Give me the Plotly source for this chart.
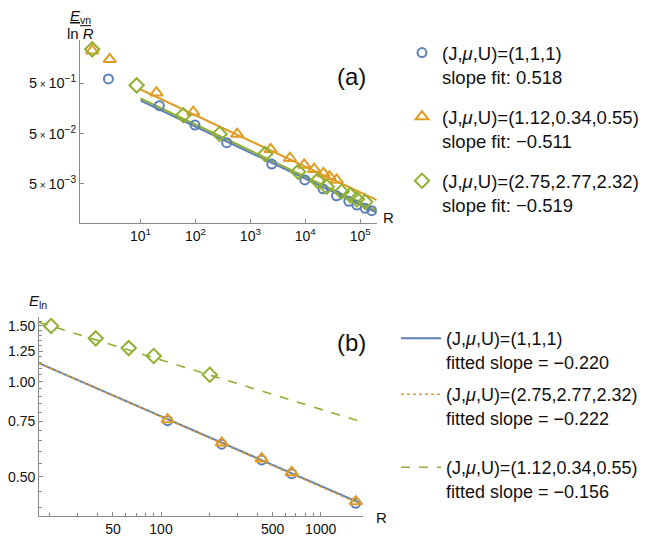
import numpy as np
import plotly.graph_objects as go

# ---------------- data: panel (a) ----------------
R_a_blue = [2.6, 22, 98, 370, 2450, 9800, 21000, 37000, 62000, 87000, 123000, 162000]
E_a_blue = [0.61, 0.18, 0.074, 0.033, 0.0124, 0.006, 0.004, 0.0029, 0.00226, 0.0019, 0.00164, 0.00147]

R_a_orange = [1.32, 2.75, 19.5, 91, 575, 2340, 5250, 9550, 14500, 21400, 27500, 37200]
E_a_orange = [2.22, 1.5, 0.325, 0.134, 0.049, 0.0244, 0.0162, 0.0119, 0.0098, 0.0081, 0.0070, 0.0060]

R_a_green = [1.32, 8.5, 60, 275, 1860, 7400, 16600, 24500, 45700, 66000, 87000, 123000]
E_a_green = [2.37, 0.456, 0.116, 0.049, 0.0196, 0.00875, 0.0058, 0.0044, 0.0035, 0.0030, 0.00247, 0.0022]

# fit lines (log10 intercept, slope) for panel (a)
fit_a_intercept = [-0.125, 0.087, -0.08]
fit_a_slope = [-0.518, -0.511, -0.519]
fit_a_R = [10, 200000]

labels_a = ["(J,<i>μ</i>,U)=(1,1,1)<br>slope fit: 0.518",
            "(J,<i>μ</i>,U)=(1.12,0.34,0.55)<br>slope fit: −0.511",
            "(J,<i>μ</i>,U)=(2.75,2.77,2.32)<br>slope fit: −0.519"]

# ---------------- data: panel (b) ----------------
R_b_12 = [110, 240, 427, 658, 1656]
E_b_blue = [0.752, 0.634, 0.565, 0.511, 0.412]
E_b_orange = [0.758, 0.640, 0.570, 0.516, 0.417]
R_b_green = [20.5, 39, 62.8, 90, 202]
E_b_green = [1.50, 1.371, 1.277, 1.205, 1.051]

fit_b_intercept = [0.33, 0.333, 0.3805]
fit_b_slope = [-0.220, -0.222, -0.156]
fit_b_R = [17.2, 1833]

labels_b = ["(J,<i>μ</i>,U)=(1,1,1)<br>fitted slope = −0.220",
            "(J,<i>μ</i>,U)=(2.75,2.77,2.32)<br>fitted slope = −0.222",
            "(J,<i>μ</i>,U)=(1.12,0.34,0.55)<br>fitted slope = −0.156"]

# ticks
xa_tickvals = [10, 100, 1000, 10000, 100000]
xa_ticktext = ["10<sup>1</sup>", "10<sup>2</sup>", "10<sup>3</sup>", "10<sup>4</sup>", "10<sup>5</sup>"]
ya_tickvals = [0.5, 0.05, 0.005]
ya_ticktext = ["5<span style='font-size:10px'> × </span>10<sup>−1</sup>",
               "5<span style='font-size:10px'> × </span>10<sup>−2</sup>",
               "5<span style='font-size:10px'> × </span>10<sup>−3</sup>"]
xb_tickvals = [50, 100, 500, 1000]
xb_ticktext = ["50", "100", "500", "1000"]
xb_minor = [20, 30, 40, 60, 70, 80, 90, 200, 300, 400, 600, 700, 800, 900]
yb_tickvals = [0.5, 0.75, 1.0, 1.25, 1.5]
yb_ticktext = ["0.50", "0.75", "1.00", "1.25", "1.50"]
yb_minor = [0.4, 0.45, 0.55, 0.6, 0.65, 0.7, 0.8, 0.85, 0.9, 0.95, 1.05, 1.1, 1.15, 1.2,
            1.3, 1.35, 1.4, 1.45, 1.55]

BLUE = "#5E81B5"
ORANGE = "#E19C24"
GREEN = "#8FB032"
AXC = "#8a8a8a"
FONT = "Liberation Sans, Arial, sans-serif"

# page has an 8px body margin: figure is drawn 8px in from the window edge
OFF = 8
W, H = 649 - OFF, 539 - OFF


def fx(px):
    return (px - OFF) / W


def fy(py):
    return 1 - (py - OFF) / H


fig = go.Figure()

# ---- panel (a) fit lines
colors_a = [BLUE, ORANGE, GREEN]
for b0, s, c in zip(fit_a_intercept, fit_a_slope, colors_a):
    xr = np.array(fit_a_R, dtype=float)
    yr = 10 ** (b0 + s * np.log10(xr))
    fig.add_trace(go.Scatter(x=xr, y=yr, mode="lines", line=dict(color=c, width=2),
                             showlegend=False, xaxis="x", yaxis="y", hoverinfo="skip"))

# ---- panel (a) markers
sym_a = ["circle-open", "triangle-up-open", "diamond-open"]
size_a = [9, 11, 11]
data_a = [(R_a_blue, E_a_blue), (R_a_orange, E_a_orange), (R_a_green, E_a_green)]
for i, ((rx, ey), c, sy, sz, lab) in enumerate(zip(data_a, colors_a, sym_a, size_a, labels_a)):
    fig.add_trace(go.Scatter(x=rx, y=ey, mode="markers", name=lab,
                             marker=dict(symbol=sy, size=sz, color=c, line=dict(width=2, color=c)),
                             xaxis="x", yaxis="y", legend="legend", legendgroup="a%d" % i))

# ---- panel (b) fit lines (one legend box per entry)
colors_b = [BLUE, ORANGE, GREEN]
dash_b = ["solid", "dot", "dash"]
legends_b = ["legend2", "legend3", "legend4"]
for i, (b0, s, c, d, lab, lg) in enumerate(zip(fit_b_intercept, fit_b_slope, colors_b, dash_b,
                                               labels_b, legends_b)):
    xr = np.geomspace(fit_b_R[0], fit_b_R[1], 50)
    yr = 10 ** (b0 + s * np.log10(xr))
    fig.add_trace(go.Scatter(x=xr, y=yr, mode="lines", name=lab,
                             line=dict(color=c, width=2 if i == 0 else 1.6, dash=d),
                             xaxis="x2", yaxis="y2", legend=lg, hoverinfo="skip"))

# ---- panel (b) markers
fig.add_trace(go.Scatter(x=R_b_12, y=E_b_blue, mode="markers", showlegend=False,
                         marker=dict(symbol="circle-open", size=9, color=BLUE, line=dict(width=2, color=BLUE)),
                         xaxis="x2", yaxis="y2"))
fig.add_trace(go.Scatter(x=R_b_12, y=E_b_orange, mode="markers", showlegend=False,
                         marker=dict(symbol="triangle-up-open", size=11, color=ORANGE, line=dict(width=2, color=ORANGE)),
                         xaxis="x2", yaxis="y2"))
fig.add_trace(go.Scatter(x=R_b_green, y=E_b_green, mode="markers", showlegend=False,
                         marker=dict(symbol="diamond-open", size=11, color=GREEN, line=dict(width=2, color=GREEN)),
                         xaxis="x2", yaxis="y2"))

axis_common = dict(showgrid=False, zeroline=False, showline=True, linecolor=AXC, linewidth=1,
                   ticks="inside", tickcolor=AXC, tickwidth=1, automargin=False,
                   tickfont=dict(family=FONT, size=14, color="#111"), type="log")

leg_font_a = dict(family=FONT, size=18.5, color="#111")
leg_font_b = dict(family=FONT, size=18, color="#111")


def leg(xpx, ypx, font, **kw):
    d = dict(x=fx(xpx), y=fy(ypx), xanchor="left", yanchor="top", font=font,
             valign="top", bgcolor="rgba(0,0,0,0)")
    d.update(kw)
    return d


fig.update_layout(
    width=W, height=H, margin=dict(l=0, r=0, t=0, b=0, autoexpand=False),
    paper_bgcolor="white", plot_bgcolor="white",
    font=dict(family=FONT, color="#111"),
    xaxis=dict(axis_common, domain=[fx(80), fx(376.7)], anchor="y", range=[-0.102, 5.30],
               tickmode="array", tickvals=xa_tickvals, ticktext=xa_ticktext, ticklen=4),
    yaxis=dict(axis_common, domain=[fy(222.7), fy(40)], anchor="x", range=[-3.072, 0.56],
               tickmode="array", tickvals=ya_tickvals, ticktext=ya_ticktext, ticklen=4,
               tickfont=dict(family=FONT, size=14.5, color="#111")),
    xaxis2=dict(axis_common, domain=[fx(39), fx(362.7)], anchor="y2", range=[1.236, 3.263],
                tickmode="array", tickvals=xb_tickvals, ticktext=xb_ticktext, ticklen=4,
                minor=dict(tickmode="array", tickvals=xb_minor, ticks="inside", ticklen=2.5,
                           tickcolor=AXC, showgrid=False)),
    yaxis2=dict(axis_common, domain=[fy(515.7), fy(317.3)], anchor="x2", range=[-0.4245, 0.2036],
                tickmode="array", tickvals=yb_tickvals, ticktext=yb_ticktext, ticklen=4,
                minor=dict(tickmode="array", tickvals=yb_minor, ticks="inside", ticklen=2.5,
                           tickcolor=AXC, showgrid=False)),
    legend=leg(402, 34, leg_font_a, tracegroupgap=13),
    legend2=leg(396, 320, leg_font_b, itemwidth=40),
    legend3=leg(396, 376, leg_font_b, itemwidth=40),
    legend4=leg(396, 449, leg_font_b, itemwidth=40),
)

ann = [
    dict(text="<u><i>E</i><sub>vn</sub></u>", x=fx(80), y=fy(16),
         xanchor="center", yanchor="middle", font=dict(size=15)),
    dict(text="ln <i>R</i>", x=fx(80), y=fy(33),
         xanchor="center", yanchor="middle", font=dict(size=15)),
    dict(text="R", x=fx(388), y=fy(217), xanchor="center", yanchor="middle", font=dict(size=15)),
    dict(text="(a)", x=fx(351), y=fy(76), xanchor="center", yanchor="middle", font=dict(size=24)),
    dict(text="<i>E</i><sub>ln</sub>", x=fx(38), y=fy(301), xanchor="center", yanchor="middle",
         font=dict(size=15)),
    dict(text="R", x=fx(381), y=fy(517), xanchor="center", yanchor="middle", font=dict(size=15)),
    dict(text="(b)", x=fx(351), y=fy(342), xanchor="center", yanchor="middle", font=dict(size=24)),
]
for a in ann:
    a.update(xref="paper", yref="paper", showarrow=False)
    a["font"].update(family=FONT, color="#111")
fig.update_layout(annotations=ann)

fig.write_html("out.html")
